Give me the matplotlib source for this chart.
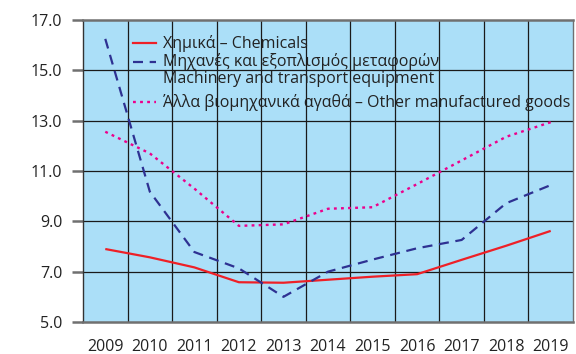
import matplotlib
matplotlib.use("Agg")
import matplotlib.pyplot as plt
from matplotlib.lines import Line2D

plt.rcParams['font.family'] = ['Open Sans', 'DejaVu Sans']

years = ["2009", "2010", "2011", "2012", "2013", "2014", "2015", "2016", "2017", "2018", "2019"]
chemicals = [7.9, 7.57, 7.17, 6.58, 6.56, 6.68, 6.8, 6.9, 7.47, 8.03, 8.62]
machinery = [16.25, 10.18, 7.78, 7.13, 6.0, 7.0, 7.48, 7.93, 8.26, 9.72, 10.44]
other_goods = [12.56, 11.7, 10.3, 8.82, 8.88, 9.5, 9.56, 10.48, 11.42, 12.36, 12.94]

labels = [
    "Χημικά – Chemicals",
    "Μηχανές και εξοπλισμός μεταφορών\nMachinery and transport equipment",
    "Άλλα βιομηχανικά αγαθά – Other manufactured goods",
]
y_ticks = [5.0, 7.0, 9.0, 11.0, 13.0, 15.0, 17.0]

red = "#ee2027"
navy = "#2e3192"
magenta = "#ec008c"
bg = "#abdff8"

fig = plt.figure(figsize=(5.76, 3.54), dpi=100)
ax = fig.add_axes([83 / 576, 32 / 354, 490 / 576, 302 / 354])
ax.set_facecolor(bg)

x = list(range(len(years)))
ax.set_xlim(-0.5, len(years) - 0.5)
ax.set_ylim(5, 17)

# category cell borders and value gridlines
for xb in [i - 0.5 for i in range(1, len(years))]:
    ax.axvline(xb, color="#1a1a1a", lw=0.9, zorder=1)
for yv in y_ticks[1:-1]:
    ax.axhline(yv, color="#1a1a1a", lw=0.9, zorder=1)

ax.plot(x, chemicals, color=red, lw=1.6, zorder=3, solid_capstyle="butt")
ax.plot(x, machinery, color=navy, lw=1.6, ls=(0, (4.5, 3)), zorder=3)
ax.plot(x, other_goods, color=magenta, lw=1.7, ls=(0, (1.2, 1.8)), zorder=3)

FS = 11.5
ax.set_xticks(x)
ax.set_xticklabels(years)
ax.set_yticks(y_ticks)
ax.set_yticklabels([f"{v:.1f}" for v in y_ticks])
ax.tick_params(axis="x", length=0, pad=12, labelsize=FS, labelcolor="#222222")
ax.tick_params(axis="y", length=8, width=1.8, color="#707070", pad=7,
               labelsize=FS, labelcolor="#222222")

for side in ("top", "bottom"):
    ax.spines[side].set_color("#707070")
    ax.spines[side].set_linewidth(1.8)
ax.spines["left"].set_color("#333333")
ax.spines["left"].set_linewidth(1.0)
ax.spines["right"].set_color("#707070")
ax.spines["right"].set_linewidth(1.0)

# legend drawn in axes coordinates
def ax_xy(px, py):
    return ((px - 83) / 490, (322 - py) / 302)

styles = [
    dict(color=red, lw=1.6),
    dict(color=navy, lw=1.6, ls=(0, (4.5, 3))),
    dict(color=magenta, lw=1.7, ls=(0, (1.2, 1.8))),
]
rows_y = [43, 62, 102]
for lab, st, py in zip(labels, styles, rows_y):
    x0, y0 = ax_xy(133, py)
    x1, _ = ax_xy(156, py)
    ax.add_line(Line2D([x0, x1], [y0, y0], transform=ax.transAxes, zorder=4, **st))
    tx, _ = ax_xy(163, py)
    if "\n" in lab:
        first, second = lab.split("\n")
        ax.text(tx, y0, first, transform=ax.transAxes, va="center", ha="left",
                fontsize=FS, color="#222222", zorder=4)
        _, y2 = ax_xy(0, py + 17)
        ax.text(tx, y2, second, transform=ax.transAxes, va="center", ha="left",
                fontsize=FS, color="#222222", zorder=4)
    else:
        ax.text(tx, y0, lab, transform=ax.transAxes, va="center", ha="left",
                fontsize=FS, color="#222222", zorder=4)

fig.savefig("out.png", dpi=100)
